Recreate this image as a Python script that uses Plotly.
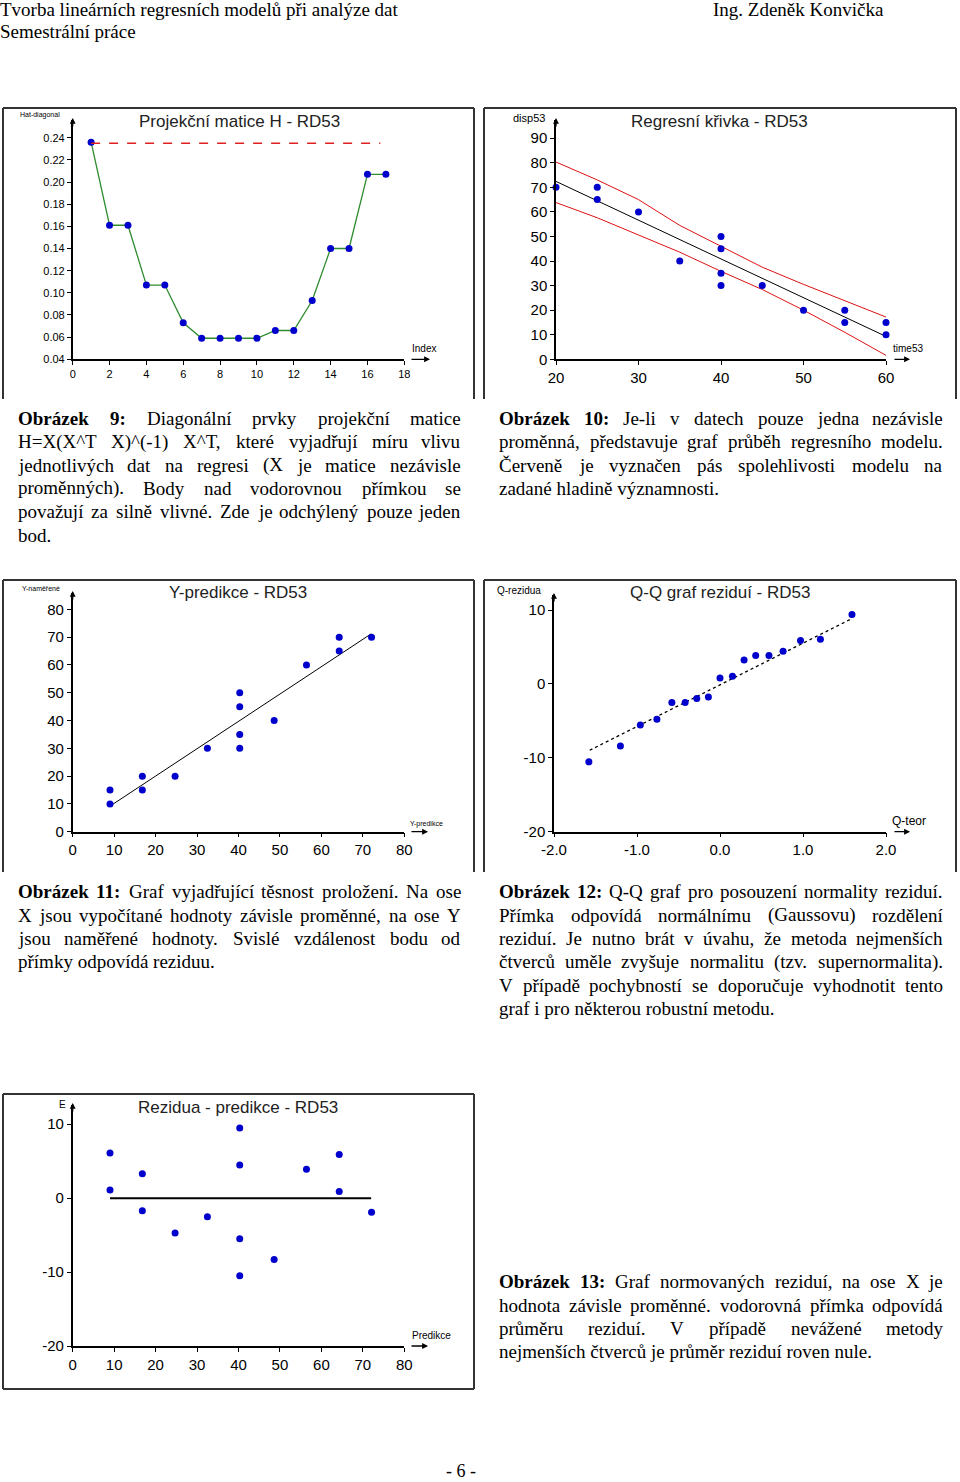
import unicodedata
import plotly.graph_objects as go

W, H = 960, 1482

# ---------------- data ----------------
hat_index = list(range(1, 18))
hat_values = [0.236, 0.161, 0.161, 0.107, 0.107, 0.073, 0.059, 0.059, 0.059,
              0.059, 0.066, 0.066, 0.093, 0.140, 0.140, 0.207, 0.207]
hat_limit_x = [1, 16.7]
hat_limit_y = [0.235, 0.235]

time53 = [20, 25, 25, 30, 35, 40, 40, 40, 40, 45, 50, 55, 55, 60, 60]
disp53 = [70, 70, 65, 60, 40, 50, 45, 35, 30, 30, 20, 20, 15, 15, 10]
band_x = [20, 25, 30, 35, 40, 45, 50, 55, 60]
band_upper = [80.3, 73.0, 65.0, 54.5, 46.0, 37.5, 30.5, 23.8, 17.2]
band_lower = [63.8, 57.6, 50.6, 43.6, 35.8, 28.4, 20.0, 11.0, 1.6]
fit_x = [20, 60]
fit_y = [72.4, 9.3]

pred = [9.0, 9.0, 16.8, 16.8, 24.7, 32.5, 40.3, 40.3, 40.3, 40.3, 48.6, 56.4, 64.3, 64.3, 72.1]
measured = [15, 10, 20, 15, 20, 30, 50, 45, 35, 30, 40, 60, 70, 65, 70]
ident_x = [9.0, 72.0]
ident_y = [9.2, 71.2]

qq_theor = [-1.58, -1.20, -0.96, -0.76, -0.58, -0.42, -0.28, -0.14, 0.0, 0.15,
            0.29, 0.43, 0.59, 0.76, 0.97, 1.21, 1.59]
qq_resid = [-10.55, -8.39, -5.55, -4.78, -2.53, -2.53, -1.98, -1.76, 0.81, 1.04,
            3.25, 3.83, 3.83, 4.42, 5.86, 6.04, 9.38]
qq_line_x = [-1.57, 1.59]
qq_line_y = [-8.98, 8.84]

resid = [6.1, 1.1, 3.3, -1.7, -4.7, -2.5, 9.5, 4.5, -5.5, -10.5, -8.3, 3.9, 5.9, 0.9, -1.9]
mean_x = [9.0, 72.0]
mean_y = [0.0, 0.0]

# tick labels
t1x = [0, 2, 4, 6, 8, 10, 12, 14, 16, 18]
t1y = [0.04, 0.06, 0.08, 0.10, 0.12, 0.14, 0.16, 0.18, 0.20, 0.22, 0.24]
t1y_text = ["0.04", "0.06", "0.08", "0.10", "0.12", "0.14", "0.16", "0.18", "0.20", "0.22", "0.24"]
t2x = [20, 30, 40, 50, 60]
t2y = [0, 10, 20, 30, 40, 50, 60, 70, 80, 90]
t3 = [0, 10, 20, 30, 40, 50, 60, 70, 80]
t4x = [-2, -1, 0, 1, 2]
t4x_text = ["-2.0", "-1.0", "0.0", "1.0", "2.0"]
t4y = [-20, -10, 0, 10]
t4y_text = ["-20", "-10", "0", "10"]
t5y = [-20, -10, 0, 10]
t5y_text = ["-20", "-10", "0", "10"]

BLUE = "#0000CC"
SANS = "Liberation Sans, Arial, sans-serif"
SERIF = "Liberation Serif, Times New Roman, serif"


def pxx(p):
    return p / W


def pxy(p):
    return 1 - p / H


fig = go.Figure()

mk = dict(color=BLUE, size=7)

# chart 1
fig.add_trace(go.Scatter(x=hat_index, y=hat_values, mode="lines+markers",
                         line=dict(color="#2E8B2E", width=1.3), marker=mk,
                         xaxis="x", yaxis="y", cliponaxis=False))
fig.add_trace(go.Scatter(x=hat_limit_x, y=hat_limit_y, mode="lines",
                         line=dict(color="#E02020", width=1.3, dash="dash"),
                         xaxis="x", yaxis="y", cliponaxis=False))
# chart 2
fig.add_trace(go.Scatter(x=band_x, y=band_upper, mode="lines",
                         line=dict(color="#DD1111", width=1), xaxis="x2", yaxis="y2", cliponaxis=False))
fig.add_trace(go.Scatter(x=band_x, y=band_lower, mode="lines",
                         line=dict(color="#DD1111", width=1), xaxis="x2", yaxis="y2", cliponaxis=False))
fig.add_trace(go.Scatter(x=fit_x, y=fit_y, mode="lines",
                         line=dict(color="black", width=1), xaxis="x2", yaxis="y2", cliponaxis=False))
fig.add_trace(go.Scatter(x=time53, y=disp53, mode="markers", marker=mk,
                         xaxis="x2", yaxis="y2", cliponaxis=False))
# chart 3
fig.add_trace(go.Scatter(x=ident_x, y=ident_y, mode="lines",
                         line=dict(color="black", width=1), xaxis="x3", yaxis="y3", cliponaxis=False))
fig.add_trace(go.Scatter(x=pred, y=measured, mode="markers", marker=mk,
                         xaxis="x3", yaxis="y3", cliponaxis=False))
# chart 4
fig.add_trace(go.Scatter(x=qq_line_x, y=qq_line_y, mode="lines",
                         line=dict(color="black", width=1.3, dash="dot"), xaxis="x4", yaxis="y4", cliponaxis=False))
fig.add_trace(go.Scatter(x=qq_theor, y=qq_resid, mode="markers", marker=mk,
                         xaxis="x4", yaxis="y4", cliponaxis=False))
# chart 5
fig.add_trace(go.Scatter(x=mean_x, y=mean_y, mode="lines",
                         line=dict(color="black", width=2), xaxis="x5", yaxis="y5", cliponaxis=False))
fig.add_trace(go.Scatter(x=pred, y=resid, mode="markers", marker=mk,
                         xaxis="x5", yaxis="y5", cliponaxis=False))


def axis(dom, rng, tickvals, ticktext, size, anchor, vertical=False):
    d = dict(range=rng, tickvals=tickvals, ticktext=ticktext,
             showline=True, linecolor="black", linewidth=1.5, ticks="outside",
             ticklen=4, tickwidth=1, tickcolor="black", showgrid=False, zeroline=False,
             anchor=anchor, fixedrange=True, automargin=False,
             tickfont=dict(family=SANS, size=size, color="black"))
    if vertical:
        d["domain"] = [pxy(dom[1]), pxy(dom[0])]
    else:
        d["domain"] = [pxx(dom[0]), pxx(dom[1])]
    return d


layout = dict(
    width=W, height=H, margin=dict(l=0, r=0, t=0, b=0, pad=0, autoexpand=False),
    paper_bgcolor="white", plot_bgcolor="white", showlegend=False,
    xaxis=axis([72.7, 404.3], [0, 18], t1x, [str(v) for v in t1x], 11, "y"),
    yaxis=axis([120, 359.3], [0.04, 0.256], t1y, t1y_text, 11, "x", True),
    xaxis2=axis([556, 886], [20, 60], t2x, [str(v) for v in t2x], 15, "y2"),
    yaxis2=axis([120, 359.3], [0, 97.4], t2y, [str(v) for v in t2y], 15, "x2", True),
    xaxis3=axis([72.7, 404.3], [0, 80], t3, [str(v) for v in t3], 15, "y3"),
    yaxis3=axis([593.3, 831.7], [0, 85.8], t3, [str(v) for v in t3], 15, "x3", True),
    xaxis4=axis([554, 886], [-2, 2], t4x, t4x_text, 15, "y4"),
    yaxis4=axis([595, 831.7], [-20, 12.03], t4y, t4y_text, 15, "x4", True),
    xaxis5=axis([72.7, 404.3], [0, 80], t3, [str(v) for v in t3], 15, "y5"),
    yaxis5=axis([1105, 1346], [-20, 12.6], t5y, t5y_text, 15, "x5", True),
)
fig.update_layout(**layout)

ann = []
shapes = []


def text(x, y, s, size, family=SANS, anchor="left", color="black"):
    ann.append(dict(x=pxx(x), y=pxy(y), xref="paper", yref="paper", text=s,
                    showarrow=False, xanchor=anchor, yanchor="middle",
                    borderpad=0, borderwidth=0,
                    font=dict(family=family, size=size, color=color)))


def arrow(x0, y0, x1, y1):
    ann.append(dict(x=pxx(x1), y=pxy(y1), xref="paper", yref="paper", text="",
                    showarrow=True, ax=x0 - x1, ay=y0 - y1, axref="pixel", ayref="pixel",
                    arrowhead=2, arrowsize=0.9, arrowwidth=1.3, arrowcolor="black"))


def line(x0, y0, x1, y1, w=2, c="#333333"):
    shapes.append(dict(type="line", xref="paper", yref="paper",
                       x0=pxx(x0), y0=pxy(y0), x1=pxx(x1), y1=pxy(y1),
                       line=dict(color=c, width=w)))


# frames
for (l, r, t, b, closed) in [(3, 474, 108, 399, False), (484, 956, 108, 399, False),
                             (3, 474, 580, 872, False), (484, 956, 580, 872, False),
                             (3, 474, 1094, 1389, True)]:
    line(l, t, r, t)
    line(l, t, l, b)
    line(r, t, r, b)
    if closed:
        line(l, b, r, b)

# axis arrows
arrow(410, 359.3, 430, 359.3)
arrow(72.7, 128, 72.7, 118)
arrow(893, 359.3, 910, 359.3)
arrow(556, 128, 556, 118)
arrow(410, 831.7, 428, 831.7)
arrow(72.7, 601, 72.7, 591)
arrow(893, 831.7, 910, 831.7)
arrow(554, 603, 554, 593)
arrow(410, 1346, 428, 1346)
arrow(72.7, 1113, 72.7, 1103)

# chart titles
text(239.5, 121, "Projekční matice H - RD53", 17, anchor="center", color="#222")
text(719.5, 121, "Regresní křivka - RD53", 17, anchor="center", color="#222")
text(238, 593, "Y-predikce - RD53", 17, anchor="center", color="#222")
text(719.5, 593, "Q-Q graf reziduí - RD53", 17, anchor="center", color="#222")
text(238, 1107, "Rezidua - predikce - RD53", 17, anchor="center", color="#222")

# axis titles
text(20, 115, "Hat-diagonal", 7)
text(412, 349, "Index", 10)
text(513, 118, "disp53", 11)
text(893, 349, "time53", 10)
text(22, 588, "Y-naměřené", 7)
text(410, 824, "Y-predikce", 7)
text(497, 590, "Q-rezidua", 10)
text(892, 821, "Q-teor", 12)
text(59, 1104, "E", 10)
text(412, 1335, "Predikce", 10)

# ---------------- page text ----------------
FS = 19
TIMES = {' ': 250, '!': 333, '(': 333, ')': 333, ',': 250, '-': 333, '.': 250, '/': 278,
         ':': 278, '=': 564, '^': 469,
         'A': 722, 'B': 667, 'C': 667, 'D': 722, 'E': 611, 'F': 556, 'G': 722, 'H': 722,
         'I': 333, 'J': 389, 'K': 722, 'L': 611, 'M': 889, 'N': 722, 'O': 722, 'P': 556,
         'Q': 722, 'R': 667, 'S': 556, 'T': 611, 'U': 722, 'V': 722, 'W': 944, 'X': 722,
         'Y': 722, 'Z': 611,
         'a': 444, 'b': 500, 'c': 444, 'd': 500, 'e': 444, 'f': 333, 'g': 500, 'h': 500,
         'i': 278, 'j': 278, 'k': 500, 'l': 278, 'm': 778, 'n': 500, 'o': 500, 'p': 500,
         'q': 500, 'r': 333, 's': 389, 't': 278, 'u': 500, 'v': 500, 'w': 722, 'x': 500,
         'y': 500, 'z': 444}
TIMES_B = {'O': 778, 'b': 556, 'r': 444, 'a': 500, 'z': 444, 'e': 444, 'k': 556, ':': 333}


def width(word, bold=False):
    w = 0
    for ch in word:
        base = unicodedata.normalize("NFD", ch)[0]
        if base.isdigit():
            w += 500
        elif bold and base in TIMES_B:
            w += TIMES_B[base]
        else:
            w += TIMES.get(base, 500)
    return w * FS / 1000.0


def paragraph(left, right, y0, bold_words, lines):
    for i, s in enumerate(lines):
        y = y0 + i * 23.3
        words = s.split(" ")
        bolds = [(i == 0 and k < bold_words) for k in range(len(words))]
        labels = ["<b>%s</b>" % w if b else w for w, b in zip(words, bolds)]
        last = (i == len(lines) - 1)
        widths = [width(w, b) for w, b in zip(words, bolds)]
        gap = (right - left - sum(widths)) / max(len(words) - 1, 1)
        if last or len(words) < 2 or gap < 0.2 * FS:
            text(left, y, " ".join(labels), FS, SERIF)
            continue
        x = left
        for k, label in enumerate(labels):
            if k == len(words) - 1:
                text(right, y, label, FS, SERIF, anchor="right")
            else:
                text(x, y, label, FS, SERIF)
            x += widths[k] + gap


text(0, 9, "Tvorba lineárních regresních modelů při analýze dat", FS, SERIF)
text(0, 32, "Semestrální práce", FS, SERIF)
text(884, 9, "Ing. Zdeněk Konvička", FS, SERIF, anchor="right")
text(461, 1471, "- 6 -", 18, SERIF, anchor="center")

paragraph(18, 461, 418.5, 2, [
    "Obrázek 9: Diagonální prvky projekční matice",
    "H=X(X^T X)^(-1) X^T, které vyjadřují míru vlivu",
    "jednotlivých dat na regresi (X je matice nezávisle",
    "proměnných). Body nad vodorovnou přímkou se",
    "považují za silně vlivné. Zde je odchýlený pouze jeden",
    "bod."])
paragraph(499, 943, 418.5, 2, [
    "Obrázek 10: Je-li v datech pouze jedna nezávisle",
    "proměnná, představuje graf průběh regresního modelu.",
    "Červeně je vyznačen pás spolehlivosti modelu na",
    "zadané hladině významnosti."])
paragraph(18, 461, 891.8, 2, [
    "Obrázek 11: Graf vyjadřující těsnost proložení. Na ose",
    "X jsou vypočítané hodnoty závisle proměnné, na ose Y",
    "jsou naměřené hodnoty. Svislé vzdálenost bodu od",
    "přímky odpovídá reziduu."])
paragraph(499, 943, 891.8, 2, [
    "Obrázek 12: Q-Q graf pro posouzení normality reziduí.",
    "Přímka odpovídá normálnímu (Gaussovu) rozdělení",
    "reziduí. Je nutno brát v úvahu, že metoda nejmenších",
    "čtverců uměle zvyšuje normalitu (tzv. supernormalita).",
    "V případě pochybností se doporučuje vyhodnotit tento",
    "graf i pro některou robustní metodu."])
paragraph(499, 943, 1281.7, 2, [
    "Obrázek 13: Graf normovaných reziduí, na ose X je",
    "hodnota závisle proměnné. vodorovná přímka odpovídá",
    "průměru reziduí. V případě nevážené metody",
    "nejmenších čtverců je průměr reziduí roven nule."])

fig.update_layout(annotations=ann, shapes=shapes)
fig.write_html("out.html", config={"displayModeBar": False},
               post_script="document.body.style.margin='0';document.body.style.padding='0';")
